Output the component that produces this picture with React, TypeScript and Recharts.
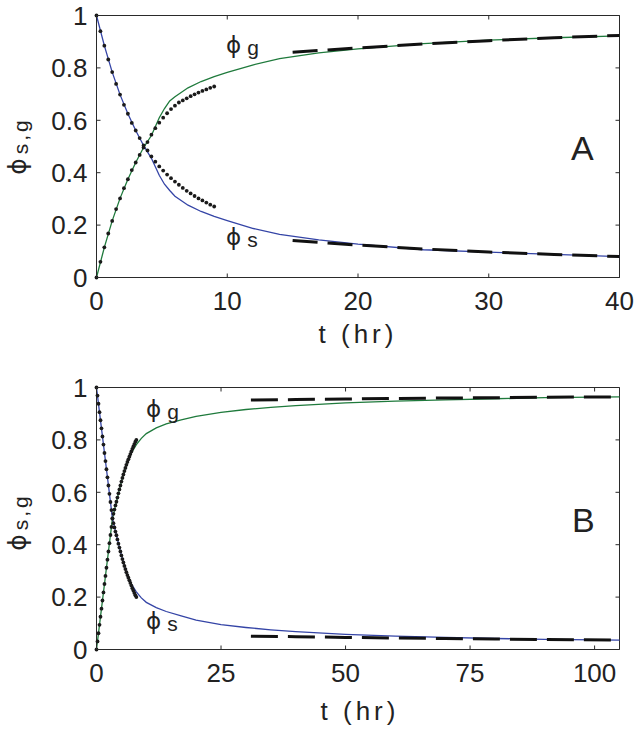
import React from "react";
import { ComposedChart, Line, XAxis, YAxis, ReferenceLine } from "recharts";

// panel A: measured points (dt = 0.3 hr)
const tDotsA = [0, 0.3, 0.6, 0.9, 1.2, 1.5, 1.8, 2.1, 2.4, 2.7, 3.0, 3.3, 3.6, 3.9, 4.2, 4.5, 4.8, 5.1, 5.4, 5.7, 6.0, 6.3, 6.6, 6.9, 7.2, 7.5, 7.8, 8.1, 8.4, 8.7, 9.0];
const sDotsA = [1.0, 0.94, 0.885, 0.832, 0.784, 0.739, 0.698, 0.659, 0.625, 0.59, 0.561, 0.532, 0.504, 0.485, 0.462, 0.442, 0.424, 0.408, 0.393, 0.379, 0.366, 0.354, 0.342, 0.331, 0.321, 0.311, 0.302, 0.294, 0.286, 0.278, 0.271];
const gDotsA = [0.0, 0.06, 0.115, 0.168, 0.216, 0.261, 0.302, 0.341, 0.375, 0.41, 0.439, 0.468, 0.496, 0.517, 0.545, 0.57, 0.591, 0.61, 0.627, 0.643, 0.656, 0.668, 0.676, 0.684, 0.692, 0.699, 0.706, 0.712, 0.718, 0.724, 0.729];

// panel A: model curves
const tModelA = [0, 0.6, 1.2, 1.8, 2.4, 3.0, 3.6, 4.2, 4.8, 5.2, 5.6, 6, 7, 8, 9, 10, 12, 14, 17, 20, 25, 30, 35, 40];
const sModelA = [1, 0.885, 0.784, 0.698, 0.625, 0.561, 0.504, 0.455, 0.39, 0.356, 0.332, 0.31, 0.276, 0.252, 0.233, 0.217, 0.187, 0.165, 0.144, 0.127, 0.106, 0.097, 0.088, 0.08];
const gModelA = [0, 0.115, 0.216, 0.302, 0.375, 0.439, 0.496, 0.542, 0.61, 0.645, 0.674, 0.69, 0.724, 0.748, 0.767, 0.783, 0.812, 0.835, 0.857, 0.873, 0.893, 0.906, 0.915, 0.922];

// panel A: long-time asymptotes
const tDashA = [15, 20, 25, 30, 35, 40];
const gDashA = [0.86, 0.876, 0.891, 0.904, 0.915, 0.924];
const sDashA = [0.141, 0.124, 0.109, 0.097, 0.088, 0.08];

// panel B: measured points (dt = 0.2 hr)
const tDotsB = [0, 0.2, 0.4, 0.6, 0.8, 1.0, 1.2, 1.4, 1.6, 1.8, 2.0, 2.2, 2.4, 2.6, 2.8, 3.0, 3.2, 3.4, 3.6, 3.8, 4.0, 4.2, 4.4, 4.6, 4.8, 5.0, 5.2, 5.4, 5.6, 5.8, 6.0, 6.2, 6.4, 6.6, 6.8, 7.0, 7.2, 7.4, 7.6, 7.8, 8.0];
const sDotsB = [1.0, 0.969, 0.938, 0.906, 0.875, 0.844, 0.813, 0.782, 0.75, 0.719, 0.688, 0.657, 0.626, 0.594, 0.563, 0.532, 0.5, 0.482, 0.466, 0.45, 0.436, 0.42, 0.404, 0.389, 0.374, 0.359, 0.345, 0.332, 0.319, 0.307, 0.295, 0.284, 0.274, 0.264, 0.254, 0.244, 0.234, 0.225, 0.216, 0.207, 0.2];
const gDotsB = [0.0, 0.031, 0.062, 0.094, 0.125, 0.156, 0.187, 0.218, 0.25, 0.281, 0.312, 0.343, 0.374, 0.406, 0.437, 0.468, 0.5, 0.518, 0.534, 0.55, 0.564, 0.58, 0.596, 0.611, 0.626, 0.641, 0.655, 0.668, 0.681, 0.693, 0.705, 0.716, 0.726, 0.736, 0.746, 0.756, 0.766, 0.775, 0.784, 0.793, 0.8];

// panel B: model curves
const tModelB = [0, 1, 2, 3, 3.2, 4, 5, 6, 7, 8, 9, 10, 12, 14, 17, 20, 25, 30, 35, 40, 50, 60, 70, 80, 90, 105];
const sModelB = [1, 0.844, 0.688, 0.532, 0.5, 0.436, 0.359, 0.295, 0.25, 0.22, 0.197, 0.18, 0.16, 0.145, 0.128, 0.112, 0.095, 0.084, 0.075, 0.068, 0.058, 0.051, 0.046, 0.042, 0.039, 0.036];
const gModelB = [0, 0.156, 0.312, 0.468, 0.5, 0.564, 0.641, 0.705, 0.75, 0.782, 0.806, 0.824, 0.846, 0.861, 0.876, 0.89, 0.905, 0.916, 0.924, 0.931, 0.941, 0.948, 0.953, 0.957, 0.961, 0.964];

// panel B: long-time asymptotes
const tDashB = [31, 40, 50, 60, 70, 80, 90, 105];
const gDashB = [0.952, 0.954, 0.956, 0.958, 0.96, 0.961, 0.963, 0.964];
const sDashB = [0.051, 0.049, 0.046, 0.044, 0.042, 0.04, 0.038, 0.036];

const yTicks = [0, 0.2, 0.4, 0.6, 0.8, 1];
const xTicksA = [0, 10, 20, 30, 40];
const xTicksB = [0, 25, 50, 75, 100];

const FONT = '"Liberation Sans", Arial, sans-serif';
const GREEK = '"DejaVu Sans", sans-serif';
const INK = "#222";
const BOX = "#2a2a2a";
const BLUE = "#3444a6";
const GREEN = "#1f7a3c";

// half-pixel positions keep the 1px box lines crisp
const PLOT_LEFT = 96.5;
const PLOT_RIGHT = 619.5;
const TICK_LEN = 4;

const zip = (ts: number[], vs: number[]) => ts.map((t, i) => ({ t, v: vs[i] }));

const boxLine = { stroke: BOX, strokeWidth: 1 };

// bottom tick: label below, inward tick marks on bottom and top edges
function makeXTick(plotH: number) {
  return (props: any) => {
    const { x, y, payload } = props;
    return (
      <g>
        <line x1={x} y1={y} x2={x} y2={y - TICK_LEN} stroke={BOX} />
        <line x1={x} y1={y - plotH} x2={x} y2={y - plotH + TICK_LEN} stroke={BOX} />
        <text x={x} y={y + 14} dy="0.71em" textAnchor="middle" fontFamily={FONT} fontSize={26} fill={INK}>
          {payload.value}
        </text>
      </g>
    );
  };
}

// left tick: label left, inward tick marks on left and right edges
function YTick(props: any) {
  const { x, y, payload } = props;
  const w = PLOT_RIGHT - PLOT_LEFT;
  return (
    <g>
      <line x1={x} y1={y} x2={x + TICK_LEN} y2={y} stroke={BOX} />
      <line x1={x + w} y1={y} x2={x + w - TICK_LEN} y2={y} stroke={BOX} />
      <text x={x - 9} y={y} dy="0.355em" textAnchor="end" fontFamily={FONT} fontSize={26} fill={INK}>
        {payload.value}
      </text>
    </g>
  );
}

interface PanelProps {
  top: number;
  height: number;
  plotTop: number;
  plotBottom: number;
  xMax: number;
  xTicks: number[];
  tModel: number[];
  sModel: number[];
  gModel: number[];
  tDots: number[];
  sDots: number[];
  gDots: number[];
  tDash: number[];
  sDash: number[];
  gDash: number[];
  dash: string;
}

function Panel(p: PanelProps) {
  const X_H = 30;
  const Y_W = 40;
  const dotStyle = { r: 1.9, fill: "#1a1a1a", stroke: "none" };
  const dashed = (data: { t: number; v: number }[]) => (
    <Line
      data={data}
      dataKey="v"
      type="linear"
      stroke="#111"
      strokeWidth={3}
      strokeDasharray={p.dash}
      dot={false}
      activeDot={false}
      isAnimationActive={false}
    />
  );
  return (
    <div style={{ position: "absolute", left: 0, top: p.top }}>
      <ComposedChart
        width={638}
        height={p.height}
        margin={{
          top: p.plotTop,
          right: 638 - PLOT_RIGHT,
          bottom: p.height - p.plotBottom - X_H,
          left: PLOT_LEFT - Y_W,
        }}
      >
        <XAxis
          type="number"
          dataKey="t"
          domain={[0, p.xMax]}
          ticks={p.xTicks}
          height={X_H}
          tickSize={0}
          tickMargin={0}
          tickLine={false}
          tick={makeXTick(p.plotBottom - p.plotTop)}
          axisLine={boxLine}
        />
        <YAxis
          type="number"
          domain={[0, 1]}
          ticks={yTicks}
          width={Y_W}
          tickSize={0}
          tickMargin={0}
          tickLine={false}
          tick={YTick}
          axisLine={boxLine}
        />
        <ReferenceLine y={1} stroke={BOX} strokeWidth={1} />
        <ReferenceLine x={p.xMax} stroke={BOX} strokeWidth={1} />
        <Line data={zip(p.tModel, p.gModel)} dataKey="v" type="linear" stroke={GREEN} strokeWidth={1.3} dot={false} activeDot={false} isAnimationActive={false} />
        <Line data={zip(p.tModel, p.sModel)} dataKey="v" type="linear" stroke={BLUE} strokeWidth={1.3} dot={false} activeDot={false} isAnimationActive={false} />
        <Line data={zip(p.tDots, p.sDots)} dataKey="v" stroke="none" dot={dotStyle} activeDot={false} isAnimationActive={false} />
        <Line data={zip(p.tDots, p.gDots)} dataKey="v" stroke="none" dot={dotStyle} activeDot={false} isAnimationActive={false} />
        {dashed(zip(p.tDash, p.gDash))}
        {dashed(zip(p.tDash, p.sDash))}
      </ComposedChart>
    </div>
  );
}

function Phi({ x, y, sub, dy = 2 }: { x: number; y: number; sub: string; dy?: number }) {
  return (
    <text x={x} y={y} fontFamily={FONT} fill={INK} fontSize={21}>
      <tspan fontFamily={GREEK} fontSize={23}>ϕ</tspan>
      <tspan dx={6} dy={dy}>
        {sub}
      </tspan>
    </text>
  );
}

function YLabel({ cy }: { cy: number }) {
  return (
    <text transform={`translate(26,${cy}) rotate(-90)`} textAnchor="middle" fontFamily={FONT} fill={INK} fontSize={21}>
      <tspan fontFamily={GREEK} fontSize={25}>ϕ</tspan>
      <tspan dx={4} dy={2} letterSpacing={3}>
        s,g
      </tspan>
    </text>
  );
}

export default function App() {
  return (
    <div style={{ position: "absolute", left: 0, top: 0, width: 638, height: 733, background: "#fff" }}>
      <Panel
        top={0}
        height={366}
        plotTop={15.5}
        plotBottom={277.5}
        xMax={40}
        xTicks={xTicksA}
        tModel={tModelA}
        sModel={sModelA}
        gModel={gModelA}
        tDots={tDotsA}
        sDots={sDotsA}
        gDots={gDotsA}
        tDash={tDashA}
        sDash={sDashA}
        gDash={gDashA}
        dash="25 10"
      />
      <Panel
        top={366}
        height={367}
        plotTop={21.5}
        plotBottom={283.5}
        xMax={105}
        xTicks={xTicksB}
        tModel={tModelB}
        sModel={sModelB}
        gModel={gModelB}
        tDots={tDotsB}
        sDots={sDotsB}
        gDots={gDotsB}
        tDash={tDashB}
        sDash={sDashB}
        gDash={gDashB}
        dash="27 10"
      />
      <svg width={638} height={733} style={{ position: "absolute", left: 0, top: 0, pointerEvents: "none" }}>
        <YLabel cy={146} />
        <YLabel cy={522} />
        <text x={358} y={343} textAnchor="middle" fontFamily={FONT} fill={INK} fontSize={26} letterSpacing={4}>
          t (hr)
        </text>
        <text x={360} y={720} textAnchor="middle" fontFamily={FONT} fill={INK} fontSize={26} letterSpacing={4}>
          t (hr)
        </text>
        <Phi x={226} y={53} sub="g" />
        <Phi x={226} y={245} sub="s" />
        <Phi x={146} y={417} sub="g" />
        <Phi x={146} y={629} sub="s" />
        <text x={571} y={160} fontFamily={FONT} fill={INK} fontSize={34}>
          A
        </text>
        <text x={572} y={532} fontFamily={FONT} fill={INK} fontSize={34}>
          B
        </text>
      </svg>
    </div>
  );
}
